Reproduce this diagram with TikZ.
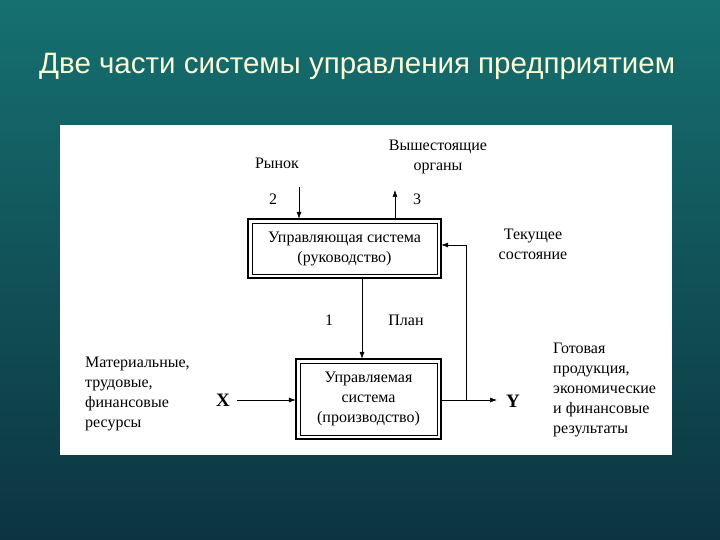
\documentclass[tikz,border=0pt]{standalone}
\usepackage{fontspec}
\setmainfont{Liberation Serif}
\newfontfamily\titlefont{Liberation Sans}
\usetikzlibrary{arrows.meta}
\definecolor{bgtop}{RGB}{22,112,112}
\definecolor{bgbot}{RGB}{12,52,64}
\definecolor{titlec}{RGB}{250,250,215}
\begin{document}
\begin{tikzpicture}[x=1pt,y=-1pt,
  arr/.style={-{Latex[length=7pt,width=5pt]},line width=0.6pt},
  lbl/.style={font=\fontsize{16}{20}\selectfont,align=center,inner sep=0pt},
  lbll/.style={font=\fontsize{16}{20}\selectfont,align=left,inner sep=0pt,anchor=north west}]
\shade[top color=bgtop,bottom color=bgbot] (0,0) rectangle (720,540);
\useasboundingbox (0,0) rectangle (720,540);
\node[anchor=west,text=titlec,font=\titlefont\fontsize{29.5}{32}\selectfont,inner sep=0pt] (title) at (39,66) {Две части системы управления предприятием};
\fill[white] (60,125) rectangle (672,455);
% boxes
\draw[line width=2.5pt] (248,219) rectangle (441,278);
\draw[line width=0.7pt] (252,223) rectangle (437,274);
\node[lbl,minimum width=193pt,minimum height=59pt] (A) at (344.5,248.5) {Управляющая система\\(руководство)};
\draw[line width=2.5pt] (296,359) rectangle (441,439);
\draw[line width=0.7pt] (300,363) rectangle (437,435);
\node[lbl,minimum width=145pt,minimum height=80pt] (B) at (368.5,399) {Управляемая\\система\\(производство)};
% connectors
\coordinate (r2) at (299,187);
\draw[arr] (r2) -- (A.north -| r2);
\coordinate (r3) at (395,190);
\draw[arr] (A.north -| r3) -- (r3);
\coordinate (p1) at (362,279);
\draw[arr] (A.south -| p1) -- (B.north -| p1);
\coordinate (xs) at (237,400);
\draw[arr] (xs) -- (B.west |- xs);
\coordinate (fb) at (466,400);
\coordinate (fb2) at (466,245);
\coordinate (ye) at (497,400);
\draw[line width=0.6pt] (B.east |- fb) -- (fb);
\draw[arr] (fb) -- (ye);
\draw[arr] (fb) -- (fb2) -- (A.east |- fb2);
% labels
\node[lbl] (rynok) at (277,163) {Рынок};
\node[lbl] (n2) at (273,199) {2};
\node[lbl] (n3) at (417,199) {3};
\node[lbl] (vysh) at (438,157) {Вышестоящие\\органы};
\node[lbl] (n1) at (329,320) {1};
\node[lbl] (plan) at (406,320) {План};
\node[lbl] (tek) at (533,244) {Текущее\\состояние};
\node[lbl,font=\bfseries\fontsize{19}{20}\selectfont] (X) at (223,400) {X};
\node[lbl,font=\bfseries\fontsize{19}{20}\selectfont] (Y) at (513,401) {Y};
\node[lbll] (res) at (85,357) {Материальные,\\трудовые,\\финансовые\\ресурсы};
\node[lbll] (out) at (553,343) {Готовая\\продукция,\\экономические\\и финансовые\\результаты};
\end{tikzpicture}
\end{document}
